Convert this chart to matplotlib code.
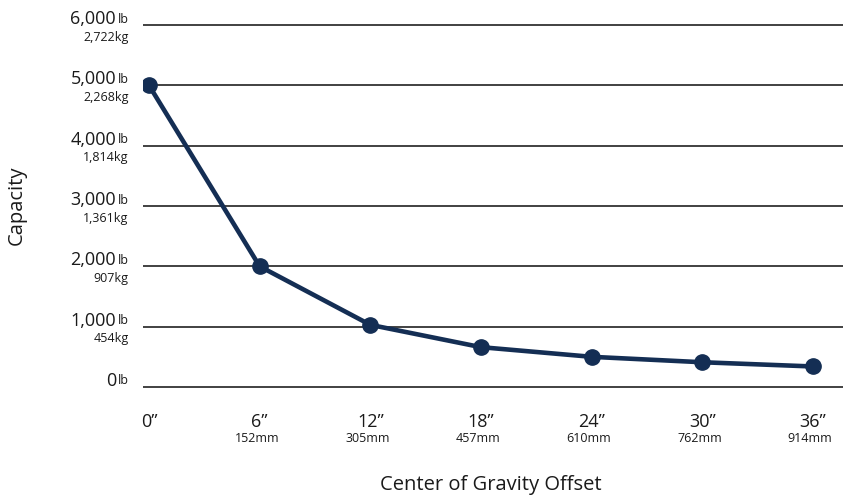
import matplotlib
matplotlib.use('Agg')
import matplotlib.pyplot as plt
import matplotlib.transforms as mtransforms

plt.rcParams['font.family'] = ['Open Sans', 'DejaVu Sans']

# data
offset_in = [0, 6, 12, 18, 24, 30, 36]
offset_mm = ['', '152mm', '305mm', '457mm', '610mm', '762mm', '914mm']
capacity_lb = [5000, 2000, 1030, 660, 500, 410, 340]
y_ticks = [0, 1000, 2000, 3000, 4000, 5000, 6000]
y_kg = ['', '454kg', '907kg', '1,361kg', '1,814kg', '2,268kg', '2,722kg']

line_color = '#142e54'
grid_color = '#333333'
text_color = '#1a1a1a'

fig = plt.figure(figsize=(8.43, 4.98), dpi=100)
ax = fig.add_axes([143 / 843, 1 - 390 / 498, 700 / 843, 368 / 498])
ax.set_xlim(-0.325, 37.63)
ax.set_ylim(-50, 6050)

for v in y_ticks:
    ax.axhline(v, color=grid_color, lw=1.3, zorder=1)

ax.plot(offset_in, capacity_lb, color=line_color, lw=3.3, marker='o',
        markersize=11, zorder=3, solid_capstyle='round')

for s in ax.spines.values():
    s.set_visible(False)
ax.set_xticks([])
ax.set_yticks([])

# y tick labels (lb + kg), placed left of the axes
ytrans = mtransforms.blended_transform_factory(fig.transFigure, ax.transData)
for v, kg in zip(y_ticks, y_kg):
    lb_off = mtransforms.offset_copy(ytrans, fig=fig, x=0, y=6, units='dots')
    ax.text(128.5 / 843, v, 'lb', transform=lb_off, ha='right', va='center',
            fontsize=9, color=text_color)
    ax.text(116 / 843, v, '{:,}'.format(v), transform=lb_off, ha='right',
            va='center', fontsize=13, color=text_color)
    if kg:
        kg_off = mtransforms.offset_copy(ytrans, fig=fig, x=0, y=-12, units='dots')
        ax.text(128.5 / 843, v, kg, transform=kg_off, ha='right', va='center',
                fontsize=9, color=text_color)

# x tick labels (inches + mm)
xtrans = mtransforms.blended_transform_factory(ax.transData, fig.transFigure)
for x, mm in zip(offset_in, offset_mm):
    ax.text(x, 1 - 422 / 498, '{}\u201d'.format(x), transform=xtrans,
            ha='center', va='center', fontsize=13, color=text_color)
    if mm:
        ax.text(x - 0.15, 1 - 438 / 498, mm, transform=xtrans, ha='center',
                va='center', fontsize=9, color=text_color)

fig.text(17 / 843, 1 - 205 / 498, 'Capacity', rotation=90, ha='center',
         va='center', fontsize=14.5, color=text_color)
fig.text(491 / 843, 1 - 485 / 498, 'Center of Gravity Offset', ha='center',
         va='center', fontsize=14.5, color=text_color)

fig.savefig('out.png', dpi=100)
